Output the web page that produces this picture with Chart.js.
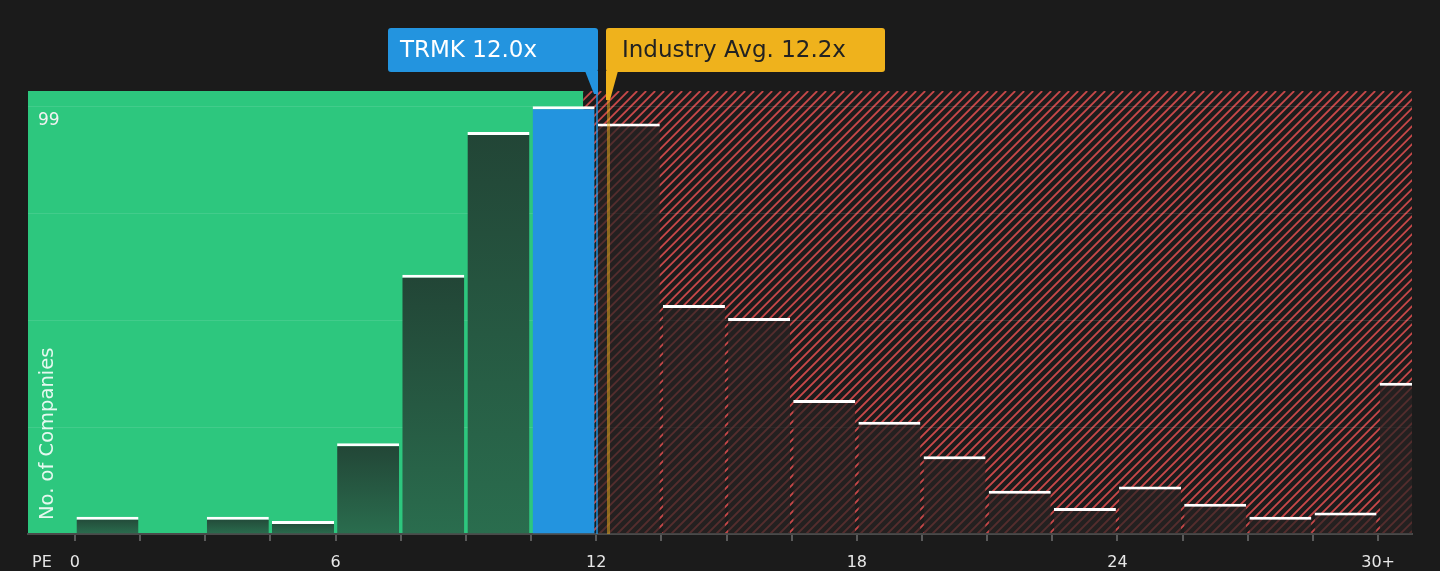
<!DOCTYPE html>
<html>
<head>
<meta charset="utf-8">
<script src="https://cdn.jsdelivr.net/npm/chart.js@4"></script>
<style>
  html, body { margin:0; padding:0; background:#1b1b1b; }
  .chart-wrap { width:1440px; height:571px; position:relative; }
</style>
</head>
<body>
<div class="chart-wrap"><canvas id="peCanvas"></canvas></div>
<script>
// ==== データ ====
const binStart  = [0, 1.5, 3, 4.5, 6, 7.5, 9, 10.5, 12, 13.5, 15, 16.5, 18, 19.5, 21, 22.5, 24, 25.5, 27, 28.5, 30];
const companies = [4, 0, 4, 3, 21, 60, 93, 99, 95, 53, 50, 31, 26, 18, 10, 6, 11, 7, 4, 5, 35];
const xTicks    = [0, 1.5, 3, 4.5, 6, 7.5, 9, 10.5, 12, 13.5, 15, 16.5, 18, 19.5, 21, 22.5, 24, 25.5, 27, 28.5, 30];
const yTicks    = [0, 24.75, 49.5, 74.25, 99];
const BIN_W = 1.5;
const TRMK_PE = 12.0;
const INDUSTRY_PE = 12.2;
const GOOD_LIMIT = 11.7;   // 緑ゾーンの終わり

const FONT = '"DejaVu Sans", sans-serif';
const GREEN = '#2dc77e';
const BLUE  = '#2394df';
const GOLD  = '#efb21c';

const isTrmkBin = (i) => binStart[i] < TRMK_PE && TRMK_PE <= binStart[i] + BIN_W;

/* ===== 背景（緑ゾーン＋赤ハッチ） ===== */
const zonePlugin = {
  id:'zones',
  beforeDraw(c){
    const {ctx, chartArea:a, scales:{x}} = c;
    ctx.save();
    ctx.fillStyle = '#1b1b1b';
    ctx.fillRect(0, 0, c.width, c.height);
    const split = x.getPixelForValue(GOOD_LIMIT);
    ctx.fillStyle = GREEN;
    ctx.fillRect(a.left, a.top, split - a.left, a.bottom - a.top);

    ctx.beginPath();
    ctx.rect(split, a.top, a.right - split, a.bottom - a.top);
    ctx.clip();
    ctx.fillStyle = '#1c1c1c';
    ctx.fillRect(split, a.top, a.right - split, a.bottom - a.top);
    ctx.strokeStyle = '#c64849';
    ctx.lineWidth = 1.8;
    const h = a.bottom - a.top;
    ctx.beginPath();
    for (let px = split - h; px < a.right + 10; px += 9){
      ctx.moveTo(px, a.bottom);
      ctx.lineTo(px + h, a.top);
    }
    ctx.stroke();
    ctx.restore();
  }
};

/* ===== マーカー線・吹き出し・文字 ===== */
function roundRect(ctx, x, y, w, h, r){
  ctx.beginPath();
  ctx.moveTo(x+r, y); ctx.lineTo(x+w-r, y); ctx.quadraticCurveTo(x+w, y, x+w, y+r);
  ctx.lineTo(x+w, y+h-r); ctx.quadraticCurveTo(x+w, y+h, x+w-r, y+h);
  ctx.lineTo(x+r, y+h); ctx.quadraticCurveTo(x, y+h, x, y+h-r);
  ctx.lineTo(x, y+r); ctx.quadraticCurveTo(x, y, x+r, y);
  ctx.closePath();
}

const markerPlugin = {
  id:'markers',
  afterDatasetsDraw(c){
    const {ctx, chartArea:a, scales:{x}} = c;
    const bx = Math.round(x.getPixelForValue(TRMK_PE)) + 2;
    const gx = Math.round(x.getPixelForValue(INDUSTRY_PE)) + 3;
    const boxTop = 28, boxH = 44, boxBot = boxTop + boxH;
    ctx.save();

    // 縦線
    ctx.fillStyle = 'rgba(35,148,223,0.7)';
    ctx.fillRect(bx - 2, boxBot, 2, a.bottom - boxBot);
    ctx.fillStyle = 'rgba(239,178,28,0.5)';
    ctx.fillRect(gx - 1, 100, 3, a.bottom - 100);

    // TRMK 吹き出し
    ctx.fillStyle = BLUE;
    roundRect(ctx, bx - 210, boxTop, 210, boxH, 3); ctx.fill();
    ctx.beginPath();
    ctx.moveTo(bx - 13, boxBot - 1); ctx.lineTo(bx, boxBot - 1);
    ctx.lineTo(bx, boxBot + 22); ctx.lineTo(bx - 4, boxBot + 22);
    ctx.closePath(); ctx.fill();

    // 業界平均 吹き出し
    ctx.fillStyle = GOLD;
    roundRect(ctx, gx - 2, boxTop, 279, boxH, 3); ctx.fill();
    ctx.beginPath();
    ctx.moveTo(gx - 2, boxBot - 1); ctx.lineTo(gx + 10, boxBot - 1);
    ctx.lineTo(gx + 2, boxBot + 28); ctx.lineTo(gx - 2, boxBot + 28);
    ctx.closePath(); ctx.fill();

    ctx.font = `23px ${FONT}`;
    ctx.textBaseline = 'middle';
    ctx.textAlign = 'left';
    ctx.fillStyle = '#ffffff';
    ctx.fillText(`TRMK ${TRMK_PE.toFixed(1)}x`, bx - 198, boxTop + boxH/2 + 1);
    ctx.fillStyle = '#222222';
    ctx.fillText(`Industry Avg. ${INDUSTRY_PE.toFixed(1)}x`, gx + 14, boxTop + boxH/2 + 1);

    // 軸タイトル
    ctx.font = `16px ${FONT}`;
    ctx.fillStyle = '#e6e6e6';
    ctx.fillText('PE', 32, 563);

    ctx.translate(a.left + 20, a.bottom - 14);
    ctx.rotate(-Math.PI/2);
    ctx.font = `19.5px ${FONT}`;
    ctx.fillStyle = 'rgba(255,255,255,0.88)';
    ctx.fillText('No. of Companies', 0, 0);
    ctx.restore();
  }
};

/* ===== 棒の色 ===== */
function barColor(c){
  const i = c.dataIndex;
  if (isTrmkBin(i)) return BLUE;
  if (binStart[i] >= GOOD_LIMIT) return 'rgba(40,34,34,0.72)';
  const ys = c.chart.scales.y;
  if (!ys || !isFinite(ys.top)) return '#245a42';
  const top = ys.getPixelForValue(companies[i]);
  const bot = ys.getPixelForValue(0);
  if (!isFinite(top) || bot - top < 1) return '#245a42';
  const g = c.chart.ctx.createLinearGradient(0, top, 0, bot);
  g.addColorStop(0, '#224536');
  g.addColorStop(1, '#2a6d4e');
  return g;
}

const points = binStart.map((s, i) => ({ x: s + BIN_W/2, y: companies[i] }));

Chart.defaults.font.family = FONT;

new Chart(document.getElementById('peCanvas').getContext('2d'), {
  type:'bar',
  data:{ datasets:[{
    data: points,
    backgroundColor: barColor,
    borderColor: '#ffffff',
    borderWidth: { top:3, left:0, right:0, bottom:0 },
    borderSkipped: 'start',
    barPercentage: 0.952,
    categoryPercentage: 1,
    clip: 0
  }]},
  options:{
    responsive:true,
    maintainAspectRatio:false,
    animation:false,
    layout:{ padding:{ left:28, right:28, top:91, bottom:0 } },
    scales:{
      x:{
        type:'linear', min:-1.08, max:30.78, offset:false,
        afterBuildTicks(ax){ ax.ticks = xTicks.map(v => ({ value:v })); },
        afterFit(ax){ ax.height = 37; },
        grid:{ display:true, offset:false, drawOnChartArea:false, drawTicks:true, tickLength:7, color:'#5a5a5a', lineWidth:2 },
        border:{ display:true, color:'#4a4a4a', width:2 },
        ticks:{
          autoSkip:false, maxRotation:0, minRotation:0, padding:14,
          color:'#e8e8e8', font:{ size:16, lineHeight:1 },
          callback(v){ return v % 6 === 0 ? (v === 30 ? '30+' : String(v)) : ''; }
        }
      },
      y:{
        min:0, max:102.5,
        afterBuildTicks(ax){ ax.ticks = yTicks.map(v => ({ value:v })); },
        afterFit(ax){ ax.width = 0; },
        grid:{ drawTicks:false, color:'rgba(255,255,255,0.1)', lineWidth:1 },
        border:{ display:false },
        ticks:{
          mirror:true, padding:10, labelOffset:14,
          color:'#f2f2f2', font:{ size:17 },
          callback(v){ return v === 99 ? '99' : ''; }
        }
      }
    },
    plugins:{ legend:{ display:false }, tooltip:{ enabled:false } }
  },
  plugins:[zonePlugin, markerPlugin]
});
</script>
</body>
</html>
